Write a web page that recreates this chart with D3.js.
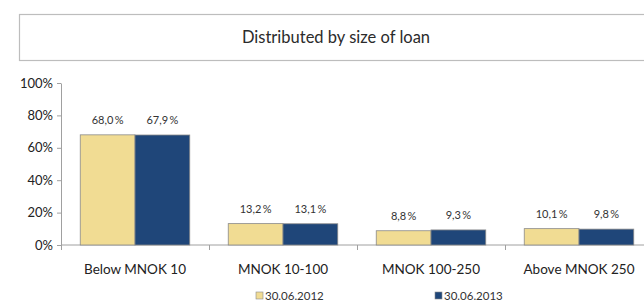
<!DOCTYPE html>
<html>
<head>
<meta charset="utf-8">
<script src="https://cdn.jsdelivr.net/npm/d3@7"></script>
<style>
  body { margin: 0; background: #fff; }
  svg { font-family: Lato, "Open Sans", sans-serif; }
</style>
</head>
<body>
<svg id="svgRoot" width="644" height="301"></svg>
<script>
// data
const categories = ["Below MNOK 10", "MNOK 10-100", "MNOK 100-250", "Above MNOK 250"]
const series = ["30.06.2012", "30.06.2013"]
const values2012 = [68.0, 13.2, 8.8, 10.1]
const values2013 = [67.9, 13.1, 9.3, 9.8]
const yTicks = [0, 20, 40, 60, 80, 100]

const colors = ["#f1dc93", "#1f4679"]

let svg = d3.select("#svgRoot")

// title box
svg.append("rect")
  .attr("x", 19.5).attr("y", 14.5)
  .attr("width", 640).attr("height", 46)
  .attr("fill", "#fff").attr("stroke", "#bdbdbd").attr("stroke-width", 1.2)
svg.append("text")
  .attr("x", 336).attr("y", 43)
  .attr("text-anchor", "middle")
  .attr("font-size", 16.5)
  .attr("fill", "#2b2b2b")
  .text("Distributed by size of loan")

const margin = { left: 61, right: -9, top: 83, bottom: 56 }
let width = 644, height = 301

let scale_x = d3.scaleBand()
  .domain(categories)
  .range([margin.left, width - margin.right])
  .paddingInner(0.26).paddingOuter(0.13)

let scale_y = d3.scaleLinear()
  .domain([0, 100])
  .range([height - margin.bottom, margin.top])

let scale_s = d3.scaleBand().domain(series).range([0, scale_x.bandwidth()])

// axes
let g_yAxis = svg.append("g").attr("transform", "translate(" + margin.left + ",0)")
g_yAxis.call(d3.axisLeft(scale_y).tickValues(yTicks).tickFormat(d => d + "%").tickSize(4).tickSizeOuter(0))
g_yAxis.selectAll("text").attr("font-size", 13).attr("fill", "#222").attr("font-family", "Lato, sans-serif").attr("dx", "-1")

let xTickScale = d3.scaleBand().domain(categories).range([margin.left, width - margin.right])
let g_xAxis = svg.append("g").attr("transform", "translate(0," + (height - margin.bottom) + ")")
g_xAxis.append("line")
  .attr("x1", margin.left).attr("x2", width)
  .attr("stroke", "#a0a0a0")
g_xAxis.selectAll(".xt").data(categories).enter().append("line")
  .attr("x1", d => Math.round(xTickScale(d)) + 0.5).attr("x2", d => Math.round(xTickScale(d)) + 0.5)
  .attr("y1", 0).attr("y2", 5).attr("stroke", "#a0a0a0")
g_xAxis.selectAll(".xl").data(categories).enter().append("text")
  .attr("x", d => xTickScale(d) + xTickScale.bandwidth() / 2)
  .attr("y", 29)
  .attr("text-anchor", "middle")
  .attr("font-size", 13.5)
  .attr("fill", "#222")
  .text(d => d)

g_yAxis.select(".domain").attr("stroke", "#a0a0a0")
g_yAxis.selectAll(".tick line").attr("stroke", "#a0a0a0")

// bars
const allValues = [values2012, values2013]
let g_bars = svg.append("g")
series.forEach((s, i) => {
  let vals = allValues[i]
  g_bars.selectAll(".bar" + i).data(categories).enter().append("rect")
    .attr("x", d => scale_x(d) + scale_s(s))
    .attr("y", (d, j) => scale_y(vals[j]))
    .attr("width", scale_s.bandwidth())
    .attr("height", (d, j) => scale_y(0) - scale_y(vals[j]))
    .attr("fill", colors[i])
    .attr("stroke", "#8a8a8a").attr("stroke-width", 0.8)
  g_bars.selectAll(".lab" + i).data(categories).enter().append("text")
    .attr("x", d => scale_x(d) + scale_s(s) + scale_s.bandwidth() / 2)
    .attr("y", (d, j) => scale_y(vals[j]) - 11)
    .attr("text-anchor", "middle")
    .attr("font-size", 11)
    .attr("fill", "#333")
    .text((d, j) => vals[j].toFixed(1).replace(".", ",") + "\u2009%")
})

// legend
const legendX = [256, 435]
series.forEach((s, i) => {
  svg.append("rect")
    .attr("x", legendX[i]).attr("y", 292)
    .attr("width", 7).attr("height", 7)
    .attr("fill", colors[i]).attr("stroke", "#8a8a8a").attr("stroke-width", 0.6)
  svg.append("text")
    .attr("x", legendX[i] + 9).attr("y", 300)
    .attr("font-size", 11.5)
    .attr("fill", "#333")
    .text(s)
})
</script>
</body>
</html>
